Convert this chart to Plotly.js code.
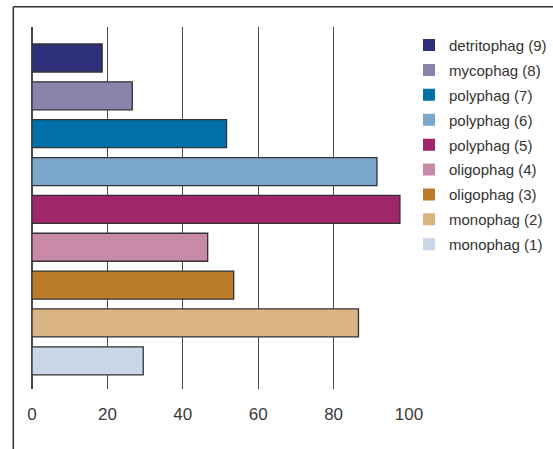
<!DOCTYPE html>
<html>
<head>
<meta charset="utf-8">
<script src="https://cdn.plot.ly/plotly-3.0.1.min.js"></script>
<style>
  html, body { margin: 0; padding: 0; background: #ffffff; }
  #chart { width: 553px; height: 449px; }
</style>
</head>
<body>
<div id="chart"></div>
<script>
// Categories from bottom to top
var categories = ['monophag (1)', 'monophag (2)', 'oligophag (3)', 'oligophag (4)', 'polyphag (5)', 'polyphag (6)', 'polyphag (7)', 'mycophag (8)', 'detritophag (9)'];
var values = [29.5, 86.6, 53.5, 46.6, 97.6, 91.5, 51.6, 26.6, 18.6];
var colors = ['#c8d6e7', '#dbb483', '#bb7c29', '#c98aa8', '#a0256a', '#7ba7cc', '#0071a8', '#8b83ab', '#2f307a'];
var tickValues = [0, 20, 40, 60, 80, 100];

var FONT = '"Liberation Sans", Arial, sans-serif';

var traces = [];
// legend / fill traces, top category first for legend order
for (var i = categories.length - 1; i >= 0; i--) {
  traces.push({
    type: 'bar', orientation: 'h',
    x: [values[i]], y: [categories[i]],
    name: categories[i],
    width: 0.74,
    marker: { color: colors[i], line: { width: 0 } },
    showlegend: true, legendgroup: categories[i],
    hoverinfo: 'skip'
  });
}
// outlined bars
for (var j = categories.length - 1; j >= 0; j--) {
  traces.push({
    type: 'bar', orientation: 'h',
    x: [values[j]], y: [categories[j]],
    name: categories[j],
    width: 0.74,
    marker: { color: colors[j], line: { width: 1.3, color: '#333333' } },
    showlegend: false, legendgroup: categories[j],
    hoverinfo: 'skip'
  });
}

var layout = {
  width: 553, height: 449,
  margin: { l: 32, r: 144, t: 27, b: 60, pad: 0, autoexpand: false },
  paper_bgcolor: '#ffffff', plot_bgcolor: '#ffffff',
  barmode: 'overlay',
  showlegend: true,
  hovermode: false,
  font: { family: FONT, color: '#333333' },
  xaxis: {
    range: [0, 100],
    tickvals: tickValues,
    ticktext: tickValues.map(String),
    showgrid: true, gridcolor: '#4a4a4a', gridwidth: 1.3,
    zeroline: true, zerolinecolor: '#4a4a4a', zerolinewidth: 1.3,
    showline: false, ticks: '',
    ticklabelstandoff: 13,
    tickfont: { family: FONT, size: 17, color: '#3a3a3a' },
    fixedrange: true
  },
  yaxis: {
    type: 'category',
    categoryorder: 'array', categoryarray: categories,
    range: [-0.745, 8.819],
    showgrid: false, zeroline: false, showline: false,
    showticklabels: false, ticks: '',
    fixedrange: true
  },
  legend: {
    x: 1.0, xanchor: 'left',
    y: 0.995, yanchor: 'top',
    traceorder: 'grouped',
    tracegroupgap: 2.4,
    font: { family: FONT, size: 15, color: '#333333' },
    bgcolor: 'rgba(0,0,0,0)', borderwidth: 0
  },
  shapes: [
    { type: 'line', xref: 'paper', yref: 'paper', x0: -0.0496, x1: -0.0496, y0: 1.0561, y1: -0.2, line: { color: '#333333', width: 1.5 } },
    { type: 'line', xref: 'paper', yref: 'paper', x0: -0.0496, x1: 1.4, y0: 1.0561, y1: 1.0561, line: { color: '#333333', width: 1.5 } }
  ]
};

Plotly.newPlot('chart', traces, layout, { displayModeBar: false, staticPlot: true });
</script>
</body>
</html>
